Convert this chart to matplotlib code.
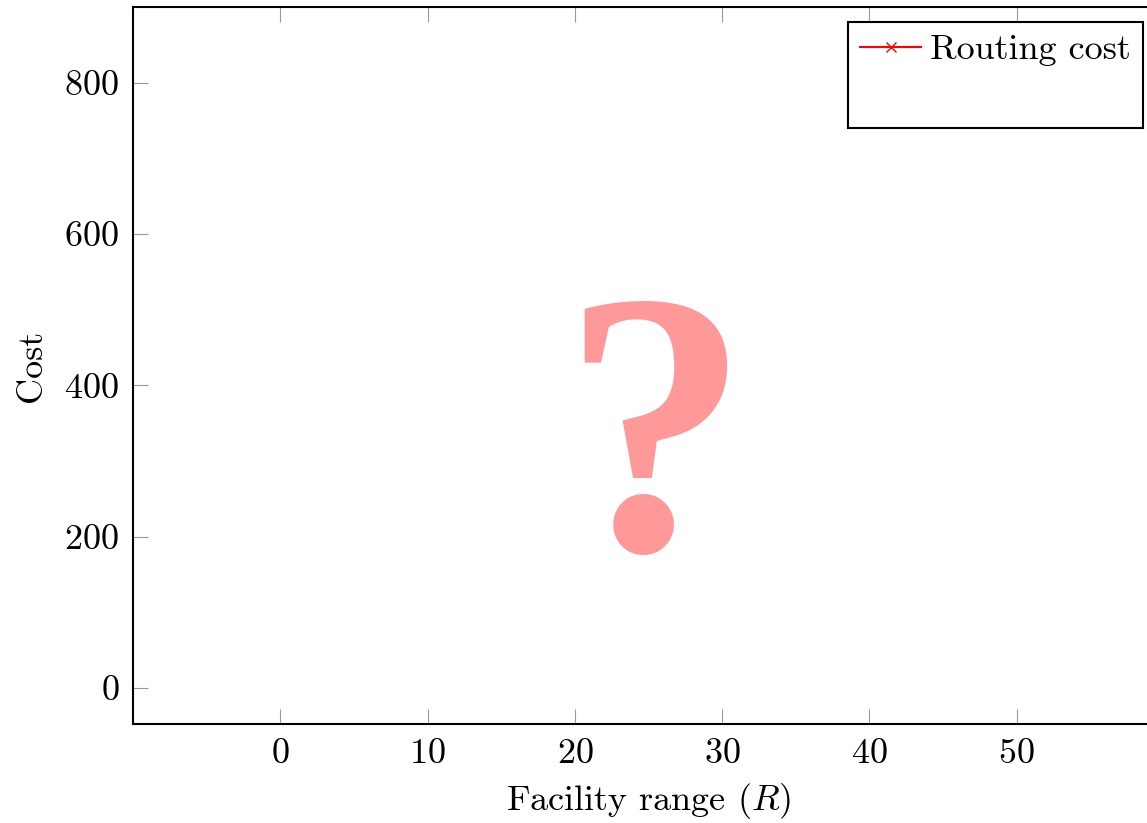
import matplotlib
matplotlib.use("Agg")
from matplotlib import pyplot as plt
from matplotlib.lines import Line2D

# series values are hidden in the reference (covered by the "?")
facility_range = []
routing_cost = []

x_ticks = [0, 10, 20, 30, 40, 50]
y_ticks = [0, 200, 400, 600, 800]


def main():
    plt.rcParams["font.family"] = ["cmr10", "DejaVu Serif"]
    plt.rcParams["mathtext.fontset"] = "cm"
    plt.rcParams["axes.formatter.use_mathtext"] = True

    fig = plt.figure(figsize=(11.47, 8.23), dpi=100)
    ax = fig.add_axes([0.116, 0.1203, 0.8988, 0.8712])

    ax.plot(facility_range, routing_cost, color="red", marker="x", markersize=7,
            linewidth=1.5, label="Routing cost")

    ax.set_xlim(-10, 60)
    ax.set_ylim(-47.5, 900)
    ax.set_xticks(x_ticks)
    ax.set_yticks(y_ticks)
    ax.tick_params(direction="in", length=11, width=0.8, color="#999999",
                   labelsize=26, pad=10, top=True, right=True)
    for spine in ax.spines.values():
        spine.set_linewidth(1.5)

    ax.set_xlabel("Facility range ($R$)", fontsize=26, labelpad=8)
    ax.set_ylabel("Cost", fontsize=26, labelpad=12)

    handles, labels = ax.get_legend_handles_labels()
    handles.append(Line2D([], [], color="none"))
    labels.append(" ")
    leg = ax.legend(handles, labels, loc="upper right",
                    bbox_to_anchor=(1143 / 1147, 1 - 22 / 823),
                    bbox_transform=fig.transFigure, borderaxespad=0,
                    fontsize=26, fancybox=False, edgecolor="black",
                    framealpha=1, handlelength=1.7, handletextpad=0.25,
                    borderpad=0.33, labelspacing=0.5)
    leg.get_frame().set_linewidth(1.5)

    fig.text(655 / 1147, 1 - 550 / 823, "?", fontsize=270, color="#ff9999",
             family="Liberation Serif", weight="bold", ha="center", va="baseline")

    fig.savefig("out.png", dpi=100)


if __name__ == "__main__":
    main()
